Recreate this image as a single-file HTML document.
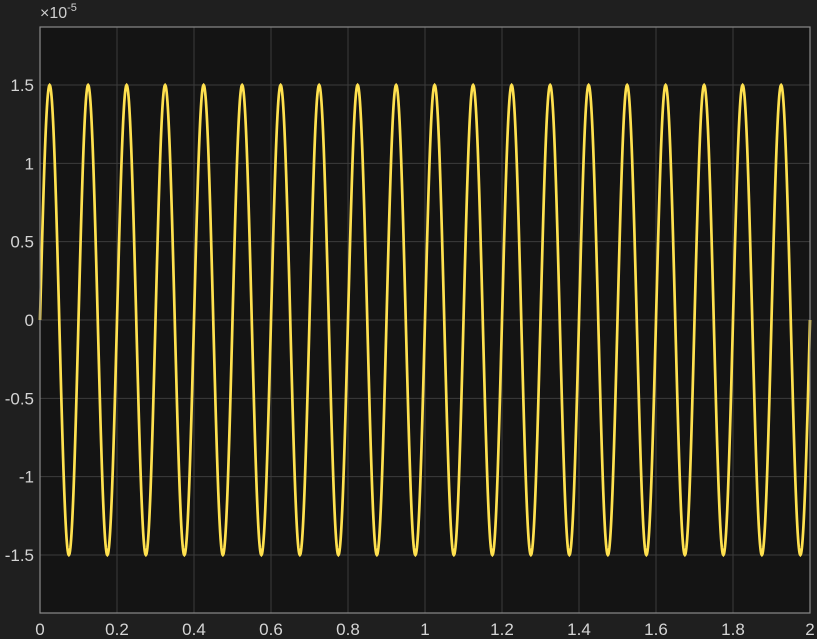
<!DOCTYPE html>
<html><head><meta charset="utf-8"><style>
html,body{margin:0;padding:0;background:#1f1f1f;}
svg{display:block;font-family:"Liberation Sans",sans-serif;}
</style></head><body>
<svg id="chart" width="817" height="639">
<rect x="0" y="0" width="817" height="639" fill="#1f1f1f"/>
<rect x="40" y="27" width="770" height="586" fill="#141414"/>
<g id="grid"></g>
<g id="series"></g>
<rect x="40" y="27" width="770" height="586" fill="none" stroke="#8a8a8a" stroke-width="1.2"/>
<g id="ticks"></g>
<text x="40" y="18" fill="#cfcfcf" font-size="16">×10<tspan font-size="11" dy="-7">-5</tspan></text>
</svg>
<script>
const xTicks = [0,0.2,0.4,0.6,0.8,1,1.2,1.4,1.6,1.8,2];
const xTickLabels = ["0","0.2","0.4","0.6","0.8","1","1.2","1.4","1.6","1.8","2"];
const yTicks = [-1.5,-1,-0.5,0,0.5,1,1.5];
const yTickLabels = ["-1.5","-1","-0.5","0","0.5","1","1.5"];
const amplitude = [1.5];
const frequencyHz = [10];
const timeRange = [0, 2];

const NS = "http://www.w3.org/2000/svg";
const L=40,R=810,T=27,B=613;
const xs = v => L + (v-0)/(2-0)*(R-L);
const ys = v => 320 - v*(235/1.5);
const grid=document.getElementById('grid'), ticks=document.getElementById('ticks'), series=document.getElementById('series');
function mk(tag, attrs, parent){const e=document.createElementNS(NS,tag);for(const k in attrs)e.setAttribute(k,attrs[k]);parent.appendChild(e);return e;}
xTicks.forEach((v,i)=>{
  const g=mk('line',{x1:xs(v),x2:xs(v),y1:T,y2:B,stroke:'#3c3c3c','stroke-width':1},grid);
  
  
  const t=mk('text',{x:xs(v),y:B+22,fill:'#d4d4d4','font-size':17,'text-anchor':'middle'},ticks);
  t.textContent=xTickLabels[i];
  
  
});
yTicks.forEach((v,i)=>{
  const g=mk('line',{x1:L,x2:R,y1:ys(v),y2:ys(v),stroke:'#3c3c3c','stroke-width':1},grid);
  
  
  const t=mk('text',{x:L-6,y:ys(v)+6,fill:'#d4d4d4','font-size':17,'text-anchor':'end'},ticks);
  t.textContent=yTickLabels[i];
  
  
});
let d='';
const N=2000;
for(let i=0;i<=N;i++){
  const t=timeRange[0]+(timeRange[1]-timeRange[0])*i/N;
  const v=amplitude[0]*Math.sin(2*Math.PI*frequencyHz[0]*t);
  d+=(i?'L':'M')+xs(t).toFixed(2)+' '+ys(v).toFixed(2);
}
const p=mk('path',{d:d,fill:'none',stroke:'#ffe14f','stroke-width':2.7},series);


</script>
</body></html>
